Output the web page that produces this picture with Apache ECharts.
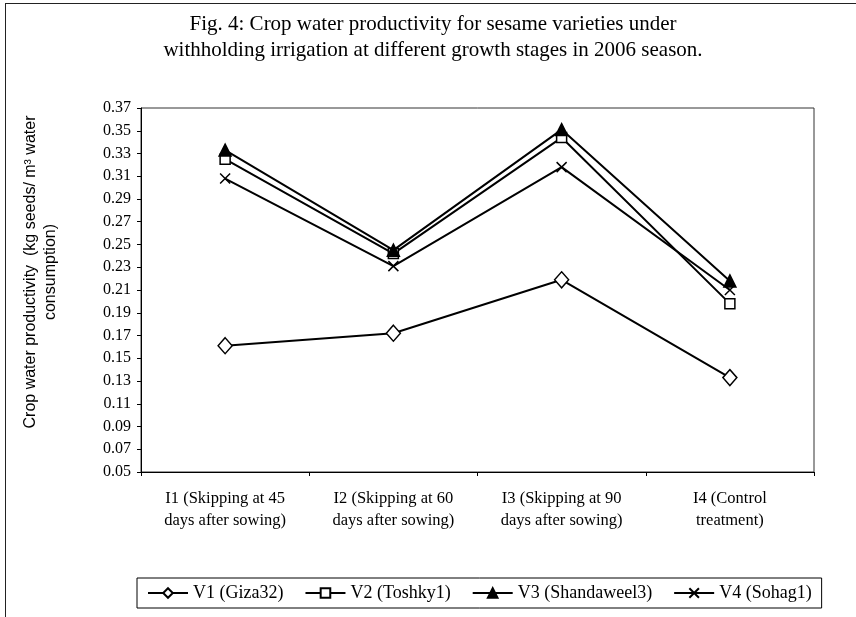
<!DOCTYPE html>
<html>
<head>
<meta charset="utf-8">
<script src="https://cdn.jsdelivr.net/npm/echarts@6/dist/echarts.min.js"></script>
<style>
  html, body { margin: 0; padding: 0; background: #fff; }
  #wrap { position: relative; width: 856px; height: 617px; overflow: hidden; }
  #main { position: absolute; left: 0; top: 0; width: 856px; height: 617px; }
  #frame {
    position: absolute; left: 5px; top: 3px; width: 900px; height: 700px;
    border-left: 1px solid #222; border-top: 1px solid #222; pointer-events: none;
  }
</style>
</head>
<body>
<div id="wrap">
  <div id="main"></div>
  <div id="frame"></div>
</div>
<script>
// irrigation treatments (x axis)
const categories = [
  "I1 (Skipping at 45\ndays after sowing)",
  "I2 (Skipping at 60\ndays after sowing)",
  "I3 (Skipping at 90\ndays after sowing)",
  "I4 (Control\ntreatment)"
];

// crop water productivity per variety
const v1Giza32 = [0.161, 0.172, 0.219, 0.133];
const v2Toshky1 = [0.325, 0.242, 0.344, 0.198];
const v3Shandaweel3 = [0.333, 0.245, 0.351, 0.218];
const v4Sohag1 = [0.308, 0.231, 0.318, 0.210];

const seriesNames = ["V1 (Giza32)", "V2 (Toshky1)", "V3 (Shandaweel3)", "V4 (Sohag1)"];

// y axis ticks: 0.05 .. 0.37 step 0.02
const yMin = 0.05;
const yMax = 0.37;
const yStep = 0.02;

const serif = "Liberation Serif";
let chart = echarts.init(document.getElementById("main"));

function lineSeries(name, data, symbol, size, fill) {
  return {
    name: name,
    type: "line",
    data: data,
    symbol: symbol,
    symbolSize: size,
    showAllSymbol: true,
    lineStyle: { color: "#000", width: 2 },
    itemStyle: { color: fill, borderColor: "#000", borderWidth: 1.5 },
    emphasis: { disabled: true },
    z: 3
  };
}

chart.setOption({
  animation: false,
  title: {
    text: "Fig. 4: Crop water productivity for sesame varieties under\nwithholding irrigation at different growth stages in 2006 season.",
    left: 428,
    top: 6,
    textAlign: "center",
    textStyle: {
      fontFamily: serif,
      fontSize: 21,
      fontWeight: "normal",
      color: "#000",
      lineHeight: 26
    }
  },
  grid: {
    left: 141,
    right: 42,
    top: 108,
    bottom: 145,
    show: true,
    borderColor: "#333",
    borderWidth: 1,
    containLabel: false
  },
  legend: {
    data: seriesNames,
    left: 137,
    top: 578,
    padding: [6, 10],
    itemGap: 21,
    itemWidth: 40,
    itemHeight: 12,
    borderColor: "#000",
    borderWidth: 1,
    textStyle: { fontFamily: serif, fontSize: 18, color: "#000" }
  },
  xAxis: {
    type: "category",
    data: categories,
    boundaryGap: true,
    axisLine: { lineStyle: { color: "#000", width: 1 } },
    axisTick: { show: true, lineStyle: { color: "#000" }, length: 4 },
    axisLabel: {
      fontFamily: serif,
      fontSize: 16.5,
      color: "#000",
      lineHeight: 22,
      margin: 16,
      interval: 0,
      align: "center"
    },
    splitLine: { show: false }
  },
  yAxis: {
    type: "value",
    min: yMin,
    max: yMax,
    interval: yStep,
    name: "Crop water productivity  (kg seeds/ m³ water\nconsumption)",
    nameLocation: "middle",
    nameGap: 80,
    nameTextStyle: {
      fontFamily: "Liberation Sans",
      fontSize: 16,
      color: "#000",
      lineHeight: 20,
      align: "center",
      padding: [0, 0, 0, 36]
    },
    axisLine: { show: true, lineStyle: { color: "#000", width: 1 } },
    axisTick: { show: true, lineStyle: { color: "#000" }, length: 4 },
    axisLabel: {
      fontFamily: serif,
      fontSize: 16,
      color: "#000",
      margin: 10,
      formatter: function (v) { return v.toFixed(2); }
    },
    splitLine: { show: false }
  },
  series: [
    lineSeries(seriesNames[0], v1Giza32, "diamond", [14, 16], "#fff"),
    lineSeries(seriesNames[1], v2Toshky1, "rect", 10, "#fff"),
    lineSeries(seriesNames[2], v3Shandaweel3, "triangle", 12, "#000"),
    lineSeries(seriesNames[3], v4Sohag1, "path://M0 0L10 10M10 0L0 10", 10, "#000")
  ]
});
</script>
</body>
</html>
